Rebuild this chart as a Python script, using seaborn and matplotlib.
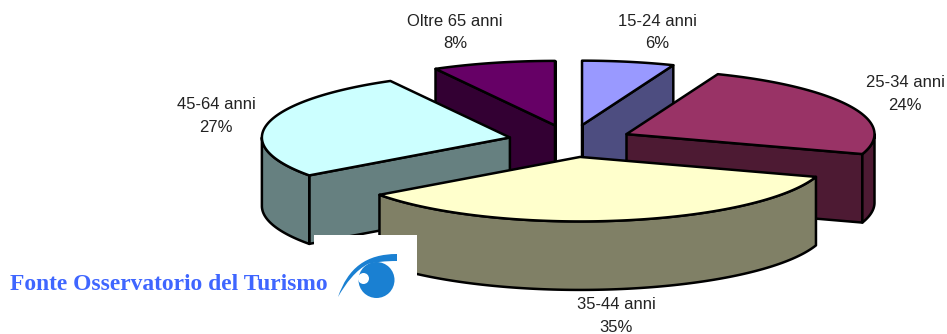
import numpy as np
import matplotlib
matplotlib.use("Agg")
import matplotlib.pyplot as plt
from matplotlib.patches import Polygon, Rectangle, PathPatch, Circle
from matplotlib.path import Path
import seaborn as sns

categories = ["15-24 anni", "25-34 anni", "35-44 anni", "45-64 anni", "Oltre 65 anni"]
shares = [6, 24, 35, 27, 8]
top_colors = ["#9999FF", "#993366", "#FFFFCC", "#CCFFFF", "#660066"]
side_colors = ["#4D4D80", "#4D1A33", "#808066", "#668080", "#330033"]
label_centers = [(657, 32.5), (905, 94), (616, 316), (216, 116), (455, 32.5)]
draw_order = [4, 0, 3, 1, 2]

CX, CY = 570.4, 141.0
RX, RY = 248.0, 64.5
DEPTH = 68.5
EXPLODE = 0.25
LW = 1.8

sns.set_theme(style="white")
plt.rcParams["font.family"] = ["Liberation Sans", "DejaVu Sans"]

fig = plt.figure(figsize=(9.47, 3.34), dpi=100)
ax = fig.add_axes([0, 0, 1, 1])
ax.set_xlim(0, 947)
ax.set_ylim(334, 0)
ax.axis("off")

edges = np.radians(np.concatenate([[0], np.cumsum(shares)]) * 3.6)


def rim(t, ox, oy, dz=0.0):
    return np.column_stack([ox + RX * np.sin(t), oy - RY * np.cos(t) + dz])


for z, i in enumerate(draw_order):
    a, b = edges[i], edges[i + 1]
    mid = (a + b) / 2
    ox = CX + EXPLODE * RX * np.sin(mid)
    oy = CY - EXPLODE * RY * np.cos(mid)
    style = dict(edgecolor="black", linewidth=LW, joinstyle="round", zorder=z + 1)
    walls = []
    if np.sin(b) > -1e-9:
        walls.append(b)
    if np.sin(a) < 1e-9:
        walls.append(a)
    for w in walls:
        p = rim(np.array([w]), ox, oy)[0]
        ax.add_patch(Polygon([(ox, oy), p, p + [0, DEPTH], (ox, oy + DEPTH)],
                             facecolor=side_colors[i], **style))
    lo, hi = max(a, np.pi / 2), min(b, 3 * np.pi / 2)
    if hi > lo:
        t = np.linspace(lo, hi, 120)
        ax.add_patch(Polygon(np.vstack([rim(t, ox, oy), rim(t[::-1], ox, oy, DEPTH)]),
                             facecolor=side_colors[i], **style))
    t = np.linspace(a, b, 120)
    ax.add_patch(Polygon(np.vstack([[(ox, oy)], rim(t, ox, oy)]),
                         facecolor=top_colors[i], **style))

for name, share, (x, y) in zip(categories, shares, label_centers):
    ax.text(x, y, f"{name}\n{share}%", ha="center", va="center", fontsize=12,
            color="#222222", linespacing=1.6, zorder=20)

# Source note with logo
ax.add_patch(Rectangle((314, 235), 103, 70, facecolor="white", edgecolor="none", zorder=30))
ax.text(10, 284, "Fonte Osservatorio del Turismo", family="Liberation Serif",
        weight="bold", fontsize=16.9, color="#3F66FF", ha="left", va="center", zorder=31)
blue = "#1A80D2"
ax.add_patch(Circle((376.5, 280), 18, facecolor=blue, edgecolor="none", zorder=31))
swoosh = Path([(338, 297), (348, 268), (366, 254), (397, 254),
               (397, 261), (385, 261), (376, 262), (368, 264),
               (356, 270), (346, 283), (338, 297), (338, 297)],
              [Path.MOVETO, Path.CURVE4, Path.CURVE4, Path.CURVE4,
               Path.LINETO, Path.CURVE4, Path.CURVE4, Path.CURVE4,
               Path.CURVE4, Path.CURVE4, Path.CURVE4, Path.CLOSEPOLY])
ax.add_patch(PathPatch(swoosh, facecolor=blue, edgecolor="none", zorder=32))
ax.add_patch(Circle((363.5, 278.5), 5.5, facecolor="white", edgecolor="none", zorder=33))

fig.savefig("out.png", dpi=100, facecolor="white")
